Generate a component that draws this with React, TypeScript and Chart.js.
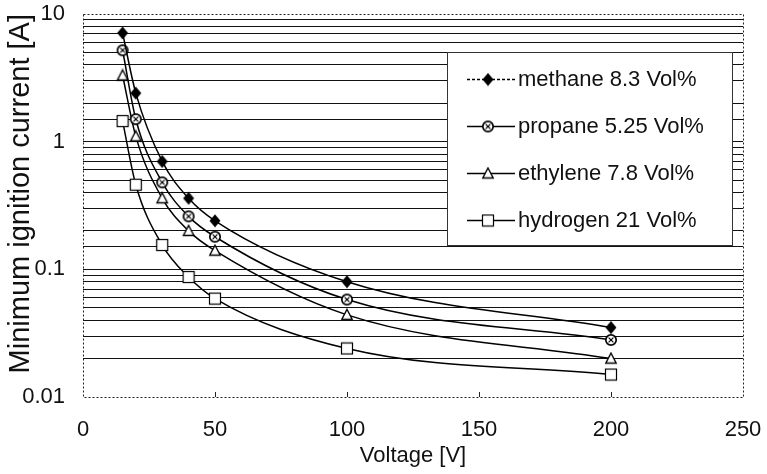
import React, { useEffect, useRef } from "react";
import { Chart, registerables } from "chart.js";

Chart.register(...registerables);

// ---- data ----
const voltages = [15, 20, 30, 40, 50, 100, 200];
const methane = [7.1, 2.4, 0.7, 0.36, 0.24, 0.08, 0.035];
const propane = [5.2, 1.5, 0.48, 0.26, 0.18, 0.058, 0.028];
const ethylene = [3.3, 1.1, 0.36, 0.2, 0.14, 0.044, 0.02];
const hydrogen = [1.45, 0.46, 0.155, 0.087, 0.059, 0.024, 0.015];
const seriesLabels = [
  "methane 8.3 Vol%",
  "propane 5.25 Vol%",
  "ethylene 7.8 Vol%",
  "hydrogen 21 Vol%",
];
const markerKinds = ["diamond", "circleX", "triangle", "square"];
const yTickLabels = ["0.01", "0.1", "1", "10"];
const xTickStep = 50;

const FONT = '"Liberation Sans", Arial, "Helvetica", sans-serif';

function makeMarker(kind: string): HTMLCanvasElement {
  const s = 14;
  const c = document.createElement("canvas");
  c.width = s;
  c.height = s;
  const g = c.getContext("2d")!;
  const m = s / 2;
  g.strokeStyle = "#000";
  g.fillStyle = "#fff";
  g.lineWidth = 1.4;
  if (kind === "diamond") {
    g.fillStyle = "#000";
    g.beginPath();
    g.moveTo(m, 0.5);
    g.lineTo(s - 1.5, m);
    g.lineTo(m, s - 0.5);
    g.lineTo(1.5, m);
    g.closePath();
    g.fill();
  } else if (kind === "circleX") {
    g.lineWidth = 1.7;
    g.beginPath();
    g.arc(m, m, 5.2, 0, Math.PI * 2);
    g.fill();
    g.stroke();
    g.lineWidth = 1.2;
    g.beginPath();
    g.moveTo(m - 2.4, m - 2.4);
    g.lineTo(m + 2.4, m + 2.4);
    g.moveTo(m + 2.4, m - 2.4);
    g.lineTo(m - 2.4, m + 2.4);
    g.stroke();
  } else if (kind === "triangle") {
    g.beginPath();
    g.moveTo(m, 1.5);
    g.lineTo(s - 1.8, s - 2.5);
    g.lineTo(1.8, s - 2.5);
    g.closePath();
    g.fill();
    g.stroke();
  } else {
    g.lineWidth = 1.2;
    g.fillRect(1.5, 1.5, s - 3, s - 3);
    g.strokeRect(1.5, 1.5, s - 3, s - 3);
  }
  return c;
}

const framePlugin = {
  id: "frameAndLegend",
  afterDatasetsDraw(chart: any) {
    const ctx: CanvasRenderingContext2D = chart.ctx;
    const a = chart.chartArea;
    ctx.save();
    // dotted frame
    ctx.strokeStyle = "#222";
    ctx.lineWidth = 1;
    ctx.setLineDash([2, 2]);
    ctx.strokeRect(
      Math.round(a.left) + 0.5,
      Math.round(a.top) + 0.5,
      Math.round(a.right - a.left),
      Math.round(a.bottom - a.top)
    );
    ctx.setLineDash([]);
    // inner x tick marks
    const xs = chart.scales.x;
    for (let v = xs.min + xTickStep; v < xs.max; v += xTickStep) {
      const px = Math.round(xs.getPixelForValue(v)) + 0.5;
      ctx.beginPath();
      ctx.moveTo(px, a.bottom);
      ctx.lineTo(px, a.bottom - 5);
      ctx.stroke();
    }
    // legend box
    const x0 = Math.round(a.right - 296);
    const y0 = Math.round(a.top + 38);
    const w = 285;
    const h = 193;
    ctx.fillStyle = "#fff";
    ctx.fillRect(x0, y0, w, h);
    ctx.strokeStyle = "#333";
    ctx.strokeRect(x0 + 0.5, y0 + 0.5, w, h);
    ctx.font = `22px ${FONT}`;
    ctx.textBaseline = "middle";
    ctx.textAlign = "left";
    chart.data.datasets.forEach((ds: any, i: number) => {
      const cy = y0 + 27 + i * 47;
      ctx.strokeStyle = "#000";
      ctx.lineWidth = 1.5;
      if (i === 0) ctx.setLineDash([3, 2]);
      ctx.beginPath();
      ctx.moveTo(x0 + 20, cy + 0.5);
      ctx.lineTo(x0 + 68, cy + 0.5);
      ctx.stroke();
      ctx.setLineDash([]);
      const mk: HTMLCanvasElement = ds.pointStyle;
      ctx.drawImage(mk, x0 + 41 - mk.width / 2, cy - mk.height / 2 + 0.5);
      ctx.fillStyle = "#111";
      ctx.fillText(ds.label, x0 + 71, cy + 1);
    });
    ctx.restore();
  },
};

function isDecade(v: number) {
  const l = Math.log10(v);
  return Math.abs(l - Math.round(l)) < 1e-6;
}

export default function App() {
  const ref = useRef<HTMLCanvasElement | null>(null);

  useEffect(() => {
    document.body.style.margin = "0";
    const canvas = ref.current!;
    const seriesValues = [methane, propane, ethylene, hydrogen];
    const datasets = seriesValues.map((vals, i) => ({
      label: seriesLabels[i],
      data: vals.map((y, j) => ({ x: voltages[j], y })),
      borderColor: "#000",
      backgroundColor: "#fff",
      borderWidth: 1.5,
      pointStyle: makeMarker(markerKinds[i]),
      pointRadius: 6,
      cubicInterpolationMode: "monotone" as const,
      fill: false,
    }));

    const chart = new Chart(canvas, {
      type: "line",
      data: { datasets },
      plugins: [framePlugin],
      options: {
        responsive: false,
        animation: false,
        events: [],
        layout: { padding: { top: 14, right: 24, left: 0, bottom: 0 } },
        plugins: { legend: { display: false }, tooltip: { enabled: false } },
        scales: {
          x: {
            type: "linear",
            position: "bottom",
            min: 0,
            max: 250,
            ticks: {
              stepSize: xTickStep,
              padding: 20,
              color: "#111",
              font: { size: 22, family: FONT },
              callback: (v: any) => String(v),
            },
            grid: { display: false, drawTicks: false },
            border: { display: false },
            title: {
              display: true,
              text: "Voltage [V]",
              color: "#111",
              font: { size: 22, family: FONT },
              padding: { top: 0, bottom: 5 },
            },
            afterFit: (s: any) => {
              s.height = 77;
              s.paddingLeft = 0;
              s.paddingRight = 0;
            },
          },
          y: {
            type: "logarithmic",
            position: "left",
            min: 0.01,
            max: 10,
            ticks: {
              autoSkip: false,
              padding: 18,
              color: "#111",
              font: { size: 22, family: FONT },
              callback: (v: any) => {
                const n = Number(v);
                if (!isDecade(n)) return "";
                return yTickLabels[Math.round(Math.log10(n)) + 2] ?? "";
              },
            },
            grid: {
              drawTicks: false,
              lineWidth: 1,
              color: (c: any) => {
                const v = c.tick ? c.tick.value : null;
                if (v == null) return "#111";
                const l = Math.log10(v);
                if (Math.abs(l - 1) < 1e-6 || Math.abs(l + 2) < 1e-6) return "rgba(0,0,0,0)";
                return "#111";
              },
            },
            border: { display: false },
            title: {
              display: true,
              text: "Minimum ignition current [A]",
              align: "end",
              color: "#111",
              font: { size: 29, family: FONT },
              padding: { top: 4, bottom: 0 },
            },
            afterFit: (s: any) => {
              s.width = 83;
              s.paddingTop = 0;
              s.paddingBottom = 0;
            },
          },
        },
      } as any,
    });
    return () => chart.destroy();
  }, []);

  return (
    <div style={{ width: 767, height: 474 }}>
      <canvas ref={ref} width={767} height={474} />
    </div>
  );
}
